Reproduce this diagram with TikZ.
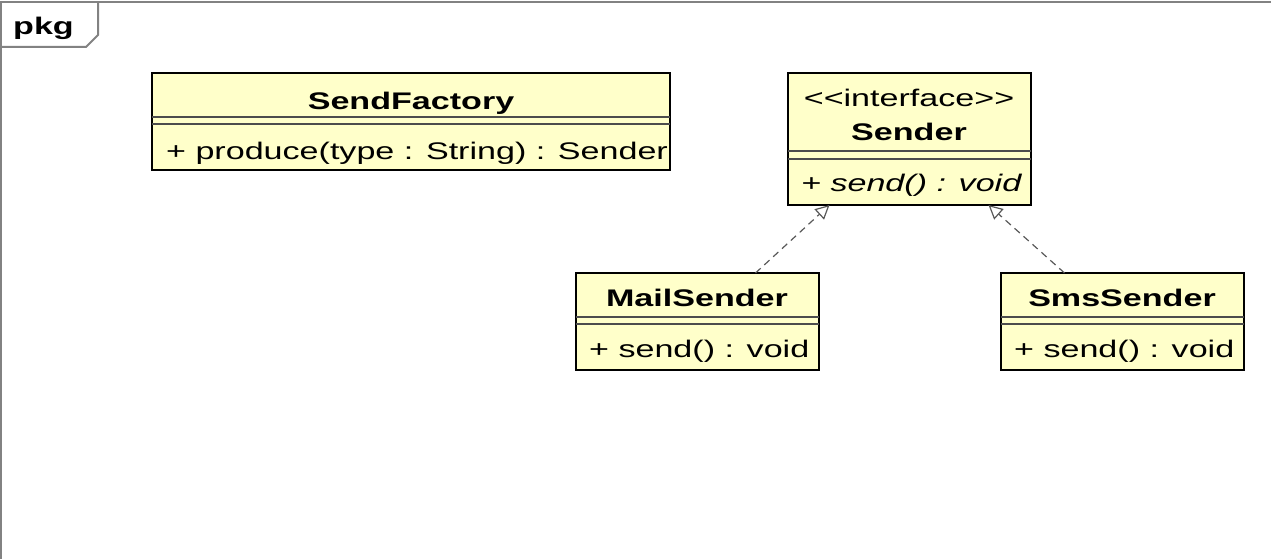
\documentclass[tikz,border=0pt]{standalone}
\usepackage{amssymb}
\usepackage{amsmath}
\usepackage{fontspec}
\setmainfont{Liberation Sans}[FakeStretch=1.42]
\usepackage{tikz}
\usepackage{xcolor}
\usetikzlibrary{arrows.meta}

\definecolor{classfill}{RGB}{255,255,202}
\definecolor{framegray}{RGB}{130,130,130}
\tikzset{
    classbox/.style={draw=black, line width=2.2pt, fill=classfill, inner sep=0pt, outer sep=0pt, anchor=north west},
    classname/.style={font=\fontsize{24}{28}\selectfont\bfseries, inner sep=0pt, anchor=base},
    stereo/.style={font=\fontsize{24}{28}\selectfont, inner sep=0pt, anchor=base},
    member/.style={font=\fontsize{24}{28}\selectfont, inner sep=0pt, anchor=base west},
    sepline/.style={draw=black!70, line width=1.5pt},
    realize/.style={draw=black!65, line width=1.2pt, dash pattern=on 7pt off 5pt,
        -{Triangle[open, length=14pt, width=14pt, fill=white]}}
}

\begin{document}
\begin{tikzpicture}[x=1pt, y=-1pt]
    \useasboundingbox (0,0) rectangle (1271,559);

    \draw[framegray, line width=2pt] (1,559) -- (1,2) -- (1271,2);
    \draw[framegray, line width=2pt] (1,47) -- (86,47) -- (98,35) -- (98,2);
    \node[classname, anchor=base west] (pkg) at (13,35) {pkg};

    \node[classbox, minimum width=518pt, minimum height=97pt] (factory) at (152,73) {};
    \draw[sepline] ([yshift=-44pt]factory.north west) -- ([yshift=-44pt]factory.north east);
    \draw[sepline] ([yshift=-51pt]factory.north west) -- ([yshift=-51pt]factory.north east);
    \node[classname] (factoryname) at (411,110) {SendFactory};
    \node[member] (factoryop) at (166,159) {+ produce(type : String) : Sender};

    \node[classbox, minimum width=243pt, minimum height=132pt] (sender) at (788,73) {};
    \draw[sepline] ([yshift=-78pt]sender.north west) -- ([yshift=-78pt]sender.north east);
    \draw[sepline] ([yshift=-86pt]sender.north west) -- ([yshift=-86pt]sender.north east);
    \node[stereo] (senderstereo) at (909,107) {<\kern0pt<interface>\kern0pt>};
    \node[classname] (sendername) at (909,140) {Sender};
    \node[member, font=\fontsize{24}{28}\selectfont\itshape] (senderop) at (801,191) {+ send() : void};

    \node[classbox, minimum width=243pt, minimum height=97pt] (mail) at (576,273) {};
    \draw[sepline] ([yshift=-44pt]mail.north west) -- ([yshift=-44pt]mail.north east);
    \draw[sepline] ([yshift=-51pt]mail.north west) -- ([yshift=-51pt]mail.north east);
    \node[classname] (mailname) at (697,306) {MailSender};
    \node[member] (mailop) at (589,357) {+ send() : void};

    \node[classbox, minimum width=243pt, minimum height=97pt] (sms) at (1001,273) {};
    \draw[sepline] ([yshift=-44pt]sms.north west) -- ([yshift=-44pt]sms.north east);
    \draw[sepline] ([yshift=-51pt]sms.north west) -- ([yshift=-51pt]sms.north east);
    \node[classname] (smsname) at (1122,306) {SmsSender};
    \node[member] (smsop) at (1014,357) {+ send() : void};

    \draw[realize] ([xshift=58pt]mail.north) -- ([xshift=-80pt]sender.south);
    \draw[realize] ([xshift=-58pt]sms.north) -- ([xshift=79pt]sender.south);
\end{tikzpicture}
\end{document}
